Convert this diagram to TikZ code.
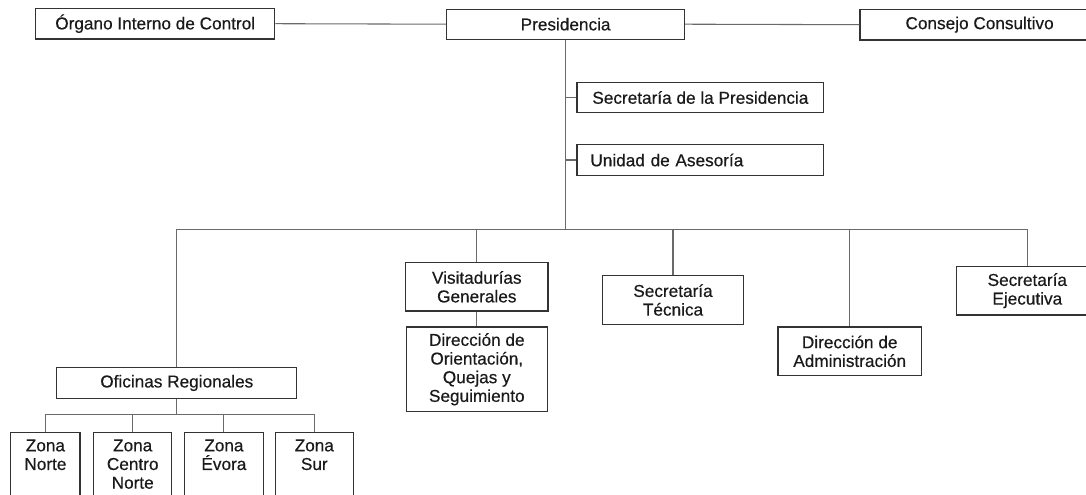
\documentclass[tikz,border=0pt]{standalone}
\usepackage{fontspec}
\setmainfont{Liberation Sans}[FakeBold=0.4]
\definecolor{boxline}{HTML}{333333}
\definecolor{conline}{HTML}{6A6A6A}
\definecolor{txt}{HTML}{1A1A1A}
\begin{document}
\begin{tikzpicture}[x=0.75pt,y=-0.75pt,
  wh/.style 2 args={minimum width={#1*0.75pt},minimum height={#2*0.75pt}},
  box/.style={draw=boxline,line width=0.9pt,fill=white,inner sep=0pt,align=center,
    text=txt,font=\fontsize{12.9}{14}\selectfont},
  ztext/.style={inner sep=0pt,align=center,text=txt,font=\fontsize{12.9}{14}\selectfont,anchor=north},
  con/.style={draw=conline,line width=0.8pt}]
\useasboundingbox (0,0) rectangle (1086,495);
\clip (0,0) rectangle (1086,495);
% top row
\node[box,wh={239.3}{30.7}] (org) at (155.2,23.7) {Órgano Interno de Control};
\node[box,wh={238}{30}] (pres) at (565.6,24.2) {Presidencia};
\node[box,wh={239.2}{30.7}] (cons) at (979.6,24.7) {Consejo Consultivo};
% staff units
\node[box,wh={246.8}{29.7}] (secp) at (700.4,97.5) {Secretaría de la Presidencia};
\node[box,wh={246.8}{30.7},text width={220*0.75pt},align=left,inner xsep={13.4*0.75pt}] (unid) at (700.4,160) {Unidad de Asesoría};
% second level
\node[box,wh={240}{30.6}] (ofr) at (176.8,383) {Oficinas Regionales};
\node[box,wh={142.2}{48.3}] (vis) at (476.8,286.8) {Visitadurías\\Generales};
\node[box,wh={141}{84.7}] (dor) at (476.8,369.3) {Dirección de\\Orientación,\\Quejas y\\Seguimiento};
\node[box,wh={141.5}{48.6}] (sect) at (673,300) {Secretaría\\Técnica};
\node[box,wh={143.3}{48.7}] (dadm) at (849.7,351.3) {Dirección de\\Administración};
\node[box,wh={141.6}{48.7}] (seje) at (1027.3,290.7) {Secretaría\\Ejecutiva};
% zones (cut by the lower edge)
\node[box,wh={69.3}{100},anchor=north] (zn) at (45.4,431.7) {};
\node[box,wh={78.2}{100},anchor=north] (zc) at (132.7,431.7) {};
\node[box,wh={78.6}{100},anchor=north] (ze) at (223.9,431.7) {};
\node[box,wh={77.8}{100},anchor=north] (zs) at (314.3,431.7) {};
\node[ztext] (tzn) at ([yshift={-7.5*0.75pt}]zn.north) {Zona\\Norte};
\node[ztext] (tzc) at ([yshift={-7.5*0.75pt}]zc.north) {Zona\\Centro\\Norte};
\node[ztext] (tze) at ([yshift={-7.5*0.75pt}]ze.north) {Zona\\Évora};
\node[ztext] (tzs) at ([yshift={-7.5*0.75pt}]zs.north) {Zona\\Sur};
% bus coordinates
\coordinate (busy) at (0,229.3);
\coordinate (suby) at (0,414.3);
% connectors
\draw[con] (org.east) -- (pres.west);
\draw[con] (pres.east) -- (cons.west);
\draw[con] (pres.south) -- (pres.south |- busy);
\draw[con] (secp.west) -- (secp.west -| pres.south);
\draw[con] (unid.west) -- (unid.west -| pres.south);
\draw[con] (ofr.north |- busy) -- (seje.north |- busy);
\draw[con] (ofr.north) -- (ofr.north |- busy);
\draw[con] (vis.north) -- (vis.north |- busy);
\draw[con] (sect.north) -- (sect.north |- busy);
\draw[con] (dadm.north) -- (dadm.north |- busy);
\draw[con] (seje.north) -- (seje.north |- busy);
\draw[con] (vis.south) -- (dor.north);
\draw[con] (ofr.south) -- (ofr.south |- suby);
\draw[con] (zn.north |- suby) -- (zs.north |- suby);
\draw[con] (zn.north) -- (zn.north |- suby);
\draw[con] (zc.north) -- (zc.north |- suby);
\draw[con] (ze.north) -- (ze.north |- suby);
\draw[con] (zs.north) -- (zs.north |- suby);
\end{tikzpicture}
\end{document}
